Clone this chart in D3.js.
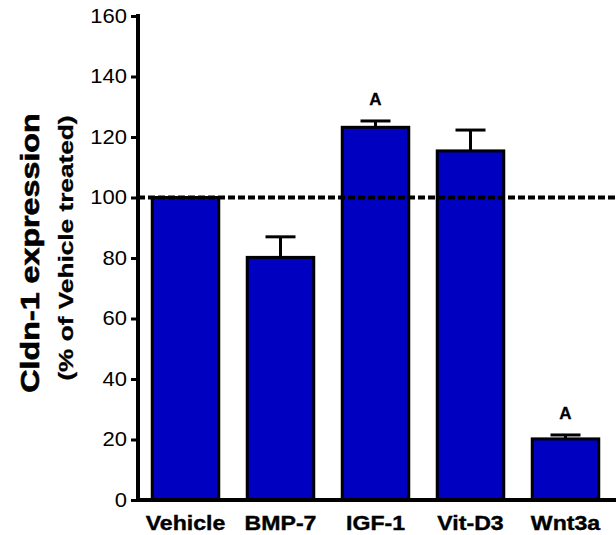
<!DOCTYPE html>
<html><head><meta charset="utf-8">
<script src="https://cdn.jsdelivr.net/npm/d3@7"></script>
<style>body{margin:0;background:#fff}svg{display:block}text{font-family:"Liberation Sans",Arial,sans-serif}</style>
</head><body>
<svg id="c" width="616" height="535"></svg>
<script>
const categories = ["Vehicle","BMP-7","IGF-1","Vit-D3","Wnt3a"];
const values = [100, 80.2, 123.2, 115.4, 20.2];
const errors = [0, 6.8, 2.1, 6.9, 1.3];
const marks = ["", "", "A", "", "A"];
const yTicks = [0,20,40,60,80,100,120,140,160];
const refLine = 100;

const svg = d3.select("#c");
const x = d3.scaleBand().domain(categories).range([138, 613]).paddingInner(0.3).paddingOuter(0.15);
const y = d3.scaleLinear().domain([0,160]).range([500, 16]);

svg.selectAll("rect.bar").data(categories).join("rect")
  .attr("x", d => x(d)).attr("width", x.bandwidth())
  .attr("y", (d,i) => y(values[i])).attr("height", (d,i) => y(0) - y(values[i]))
  .attr("fill", "#0000c0").attr("stroke", "#000").attr("stroke-width", 3);

const data = categories.map((c,i)=>({c, v:values[i], e:errors[i], m:marks[i]}));
const eb = svg.selectAll("g.eb").data(data.filter(d=>d.e>0)).join("g");
eb.append("line")
  .attr("x1", d => x(d.c)+x.bandwidth()/2).attr("x2", d => x(d.c)+x.bandwidth()/2)
  .attr("y1", d => y(d.v)).attr("y2", d => y(d.v+d.e))
  .attr("stroke","#000").attr("stroke-width",3);
eb.append("line")
  .attr("x1", d => x(d.c)+x.bandwidth()/2-15).attr("x2", d => x(d.c)+x.bandwidth()/2+15)
  .attr("y1", d => y(d.v+d.e)).attr("y2", d => y(d.v+d.e))
  .attr("stroke","#000").attr("stroke-width",3);

svg.selectAll("text.mk").data(data).join("text")
  .attr("x", d => x(d.c)+x.bandwidth()/2)
  .attr("y", d => y(d.v+d.e) - 16)
  .attr("text-anchor","middle").attr("font-weight","bold").attr("font-size",17)
  .attr("stroke","#000").attr("stroke-width",0.3)
  .text(d=>d.m);

svg.append("line").attr("x1",138).attr("x2",616).attr("y1",y(refLine)).attr("y2",y(refLine))
  .attr("stroke","#000").attr("stroke-width",4).attr("stroke-dasharray","7,3");

const ya = svg.append("g").attr("transform","translate(138,0)")
  .call(d3.axisLeft(y).tickValues(yTicks).tickSize(7).tickPadding(3));
ya.select(".domain").attr("stroke-width",4).attr("d","M0,"+(y(160)-2)+"V"+(y(0)+2));
ya.selectAll(".tick line").attr("stroke-width",3);
ya.selectAll(".tick text").attr("font-size",20).attr("fill","#000")
  .attr("font-family","Liberation Sans, Arial, sans-serif").attr("transform","scale(1.1,1)");

const xa = svg.append("g").attr("transform","translate(0,500)")
  .call(d3.axisBottom(x).tickSize(0).tickPadding(15));
xa.select(".domain").attr("stroke-width",4).attr("d","M136,0H616");
xa.selectAll(".tick text").attr("font-size",21).attr("font-weight","bold").attr("fill","#000")
  .attr("stroke","#000").attr("stroke-width",0.4)
  .attr("font-family","Liberation Sans, Arial, sans-serif").attr("transform","scale(1.1,1)");

svg.append("text").attr("transform","translate(39,253) rotate(-90) scale(1.29,1)")
  .attr("text-anchor","middle").attr("font-weight","bold").attr("font-size",25)
  .attr("stroke","#000").attr("stroke-width",0.6)
  .text("Cldn-1  expression");
svg.append("text").attr("transform","translate(73,248) rotate(-90) scale(1.28,1)")
  .attr("text-anchor","middle").attr("font-weight","bold").attr("font-size",20.5)
  .attr("stroke","#000").attr("stroke-width",0.3)
  .text("(% of Vehicle treated)");
</script>
</body></html>
